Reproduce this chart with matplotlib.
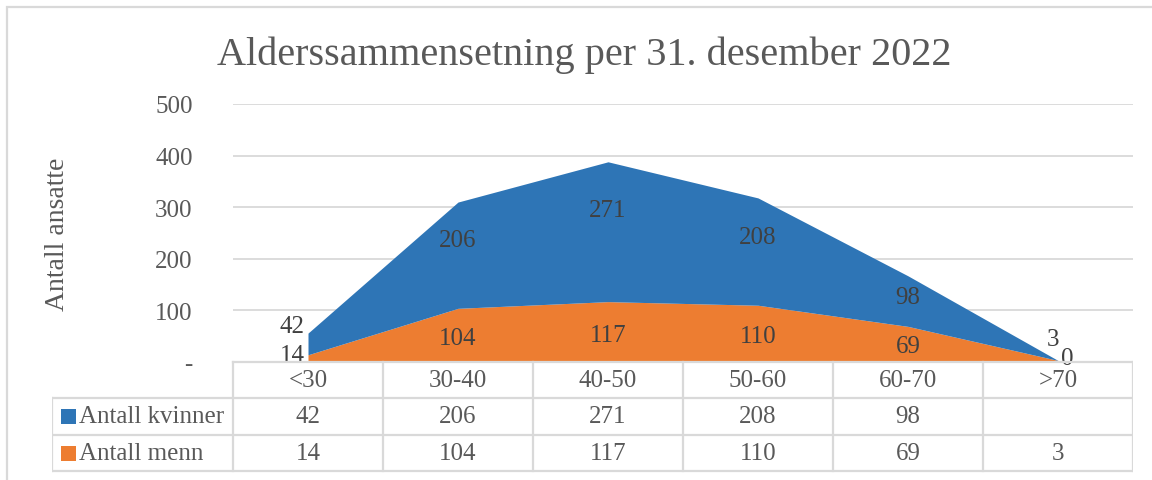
import matplotlib
matplotlib.use("Agg")
import matplotlib.pyplot as plt
from matplotlib.patches import Rectangle
import numpy as np

# Age groups and head counts per 31 December 2022
categories = ["<30", "30-40", "40-50", "50-60", "60-70", ">70"]
kvinner = [42, 206, 271, 208, 98, None]   # blank cell for >70
menn = [14, 104, 117, 110, 69, 3]
series_names = ["Antall kvinner", "Antall menn"]
yticks = [0, 100, 200, 300, 400, 500]
ytick_labels = ["-", "100", "200", "300", "400", "500"]
title = "Alderssammensetning per 31. desember 2022"
ylabel = "Antall ansatte"

BLUE = "#2E75B6"
ORANGE = "#ED7D31"
TEXT = "#595959"
LABEL = "#404040"
GRID = "#D9D9D9"
FONT = "Liberation Serif"
FS = 18

W, H = 1152, 481
fig = plt.figure(figsize=(W / 100, H / 100), dpi=100)
fig.patch.set_facecolor("white")

# chart border (runs off the right and bottom edges)
fig.add_artist(Rectangle((7 / W, -0.1), 1.2, (H - 8) / H + 0.1, transform=fig.transFigure,
                         fill=False, edgecolor=GRID, linewidth=1.6))

x = np.arange(len(categories))
k = np.array([v if v is not None else 0 for v in kvinner], dtype=float)
m = np.array(menn, dtype=float)
total = m + k

ax = fig.add_axes([233 / W, (H - 363) / H, 900 / W, (363 - 105) / H])
ax.set_xlim(-0.5, len(categories) - 0.5)
ax.set_ylim(0, 500)
ax.fill_between(x, 0, m, color=ORANGE, linewidth=0, zorder=2)
ax.fill_between(x, m, total, color=BLUE, linewidth=0, zorder=2)
for t in yticks[1:]:
    ax.axhline(t, color=GRID, linewidth=1.3, zorder=1)
for s in ax.spines.values():
    s.set_visible(False)
ax.set_xticks([])
ax.set_yticks(yticks)
ax.set_yticklabels(ytick_labels, fontfamily=FONT, fontsize=FS, color=TEXT)
ax.tick_params(axis="y", length=0, pad=29)
ax.patch.set_alpha(0)

fig.text(58 / W, 1 - 234 / H, ylabel, rotation=90, ha="center", va="center",
         fontfamily=FONT, fontsize=20, color=TEXT)

# data labels
last = len(categories) - 1
for i in x:
    kv = kvinner[i]
    if i == 0:
        ax.text(i - 0.02, total[i] + 14, str(kv), ha="right", va="center",
                fontfamily=FONT, fontsize=FS, color=LABEL, zorder=5)
        ax.text(i - 0.02, m[i], str(menn[i]), ha="right", va="center",
                fontfamily=FONT, fontsize=FS, color=LABEL, zorder=5)
    elif i == last:
        ax.text(i - 0.03, total[i] + 42, str(menn[i]), ha="center", va="center",
                fontfamily=FONT, fontsize=FS, color=LABEL, zorder=5)
        ax.text(i + 0.06, 8, str(0 if kv is None else kv), ha="center", va="center",
                fontfamily=FONT, fontsize=FS, color=LABEL, zorder=5)
    else:
        ax.text(i, 0.76 * total[i], str(kv), ha="center", va="center",
                fontfamily=FONT, fontsize=FS, color=LABEL, zorder=5)
        ax.text(i, 0.45 * m[i], str(menn[i]), ha="center", va="center",
                fontfamily=FONT, fontsize=FS, color=LABEL, zorder=5)

fig.text(584 / W, 1 - 55 / H, title, ha="center", va="center",
         fontfamily=FONT, fontsize=29, color=TEXT)

# data table below the plot
head_w = (233 - 52) / 150
tax = fig.add_axes([52 / W, 0, (1133 - 52) / W, 1])
tax.set_xlim(-0.5 - head_w, len(categories) - 0.5)
tax.set_ylim(H, 0)
tax.axis("off")
tax.patch.set_alpha(0)
rows_y = [363, 399, 436, 472]
lw = 1.6
tax.plot([-0.5, len(categories) - 0.5], [rows_y[0]] * 2, color=GRID, lw=lw)
for yy in rows_y[1:]:
    tax.plot([-0.5 - head_w, len(categories) - 0.5], [yy] * 2, color=GRID, lw=lw)
for j in range(len(categories) + 1):
    tax.plot([j - 0.5] * 2, [rows_y[0], rows_y[-1]], color=GRID, lw=lw)
tax.plot([-0.5 - head_w] * 2, [rows_y[1], rows_y[-1]], color=GRID, lw=lw)

for j, c in enumerate(categories):
    tax.text(j, (rows_y[0] + rows_y[1]) / 2, c, ha="center", va="center",
             fontfamily=FONT, fontsize=FS, color=TEXT)
for r, (name, vals, col) in enumerate(zip(series_names, [kvinner, menn], [BLUE, ORANGE])):
    yc = (rows_y[r + 1] + rows_y[r + 2]) / 2
    sq = 15 / 150
    tax.add_patch(Rectangle((-0.5 - head_w + 9 / 150, yc - 7.5), sq, 15,
                            facecolor=col, edgecolor="none"))
    tax.text(-0.5 - head_w + 27 / 150, yc, name, ha="left", va="center",
             fontfamily=FONT, fontsize=FS, color=TEXT)
    for j, v in enumerate(vals):
        if v is not None:
            tax.text(j, yc, str(v), ha="center", va="center",
                     fontfamily=FONT, fontsize=FS, color=TEXT)

fig.savefig("out.png", dpi=100, facecolor="white")
